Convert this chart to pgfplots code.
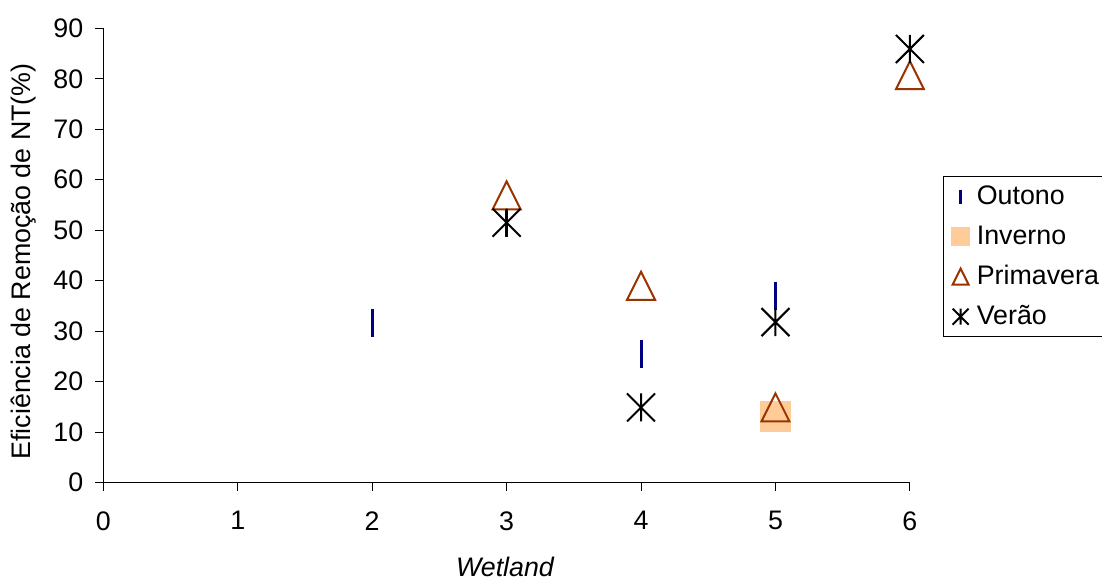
\documentclass[border=0pt]{standalone}
\usepackage{fontspec}
\setmainfont{Liberation Sans}
\usepackage{pgfplots}
\pgfplotsset{compat=1.18}
\definecolor{outono}{HTML}{000080}
\definecolor{inverno}{HTML}{FFCC99}
\definecolor{primavera}{HTML}{993300}
\pgfdeclareplotmark{xtri}{%
 \pgfpathmoveto{\pgfqpoint{0pt}{\pgfplotmarksize}}%
 \pgfpathlineto{\pgfqpoint{-\pgfplotmarksize}{-\pgfplotmarksize}}%
 \pgfpathlineto{\pgfqpoint{\pgfplotmarksize}{-\pgfplotmarksize}}%
 \pgfpathclose\pgfusepathqstroke}
\pgfdeclareplotmark{xstar}{%
 \pgfpathmoveto{\pgfqpoint{0pt}{\pgfplotmarksize}}\pgfpathlineto{\pgfqpoint{0pt}{-\pgfplotmarksize}}%
 \pgfpathmoveto{\pgfqpoint{-\pgfplotmarksize}{-\pgfplotmarksize}}\pgfpathlineto{\pgfqpoint{\pgfplotmarksize}{\pgfplotmarksize}}%
 \pgfpathmoveto{\pgfqpoint{-\pgfplotmarksize}{\pgfplotmarksize}}\pgfpathlineto{\pgfqpoint{\pgfplotmarksize}{-\pgfplotmarksize}}%
 \pgfusepathqstroke}
\pgfplotsset{legimg/.style={legend image code/.code={\path[draw=none, fill=none] (0pt,-10pt) rectangle (16.8pt,10pt);
    \draw[##1, mark size=#1] plot coordinates {(8.7pt,0pt)};}}}
\begin{document}
\begin{tikzpicture}
\begin{axis}[
  name=ax,
  scale only axis,
  width=403.3pt, height=227.2pt,
  xmin=0, xmax=6, ymin=0, ymax=90,
  xtick={0,1,2,3,4,5,6},
  ytick={0,10,...,90},
  axis lines*=left,
  axis line style={black, line width=0.5pt},
  tick style={black, line width=0.5pt},
  tick align=outside,
  major tick length=4pt,
  clip=false,
  font=\fontsize{13.4}{16}\selectfont,
  /pgf/number format/assume math mode=true,
  xticklabel style={anchor=north, inner sep=0pt, yshift=-10.15pt},
  yticklabel style={anchor=east, inner sep=0pt, xshift=-5.8pt},
  xlabel={\itshape Wetland},
  xlabel style={at={(axis description cs:0.498,0)}, anchor=base, yshift=-47.15pt},
  ylabel={Eficiência de Remoção de NT(\%)},
  ylabel style={at={(axis description cs:-0.09,0.487)}, anchor=base},
  legend style={at={(axis description cs:1.0413,0.6735)}, anchor=north west,
    draw=black, line width=0.5pt, inner sep=0pt, outer sep=0pt,
    row sep=0pt, column sep=0pt,
    font=\fontsize{13.4}{16}\selectfont,
    nodes={inner sep=0pt, anchor=west, text width=75pt}},
  legend cell align=left,
]
\addplot[only marks, mark=|, mark size=7pt, outono, line width=1.5pt, legimg=3.5pt]
  coordinates {(2,31.6) (3,51.4) (4,25.5) (5,37.0)};
\addlegendentry{Outono}
\addplot[only marks, mark=square*, mark size=7.5pt, mark options={draw=inverno, fill=inverno}, inverno, legimg=4.5pt]
  coordinates {(5,13.2)};
\addlegendentry{Inverno}
\addplot[only marks, mark=xtri, mark size=7pt, primavera, line width=1pt, legimg=4pt]
  coordinates {(3,56.9) (4,39.0) (5,14.9) (6,80.7)};
\addlegendentry{Primavera}
\addplot[only marks, mark=xstar, mark size=7pt, black, line width=1pt, legimg=4pt]
  coordinates {(3,51.5) (4,14.9) (5,31.8) (6,85.9)};
\addlegendentry{Verão}
\end{axis}
\pgfresetboundingbox
\path[use as bounding box] ([shift={(-51.65pt,-48.65pt)}]ax.south west) rectangle ([shift={(96.05pt,14.15pt)}]ax.north east);
\end{tikzpicture}
\end{document}
